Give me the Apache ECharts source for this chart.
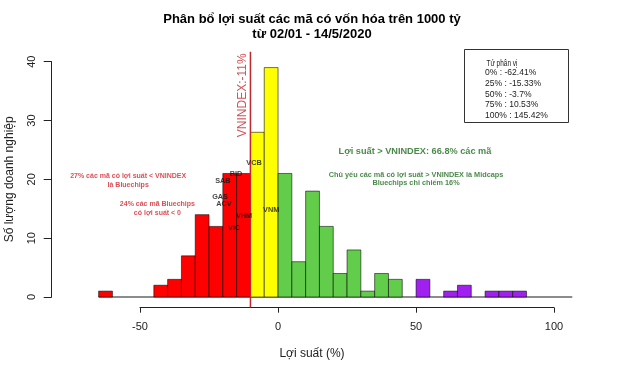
<!DOCTYPE html>
<html>
<head>
<meta charset="utf-8">
<script src="https://cdn.jsdelivr.net/npm/echarts@6/dist/echarts.min.js"></script>
<style>html,body{margin:0;padding:0;background:#fff}#c{width:624px;height:387px}</style>
</head>
<body>
<div id="c"></div>
<script>
// ---- data ----
var binStarts = [-65,-60,-55,-50,-45,-40,-35,-30,-25,-20,-15,-10,-5,0,5,10,15,20,25,30,35,40,45,50,55,60,65,70,75,80,85];
var counts    = [  1,  0,  0,  0,  2,  3,  7, 14, 12, 21, 21, 28,39,21,6,18,12, 4, 8, 1, 4, 3, 0, 3, 0, 1, 2, 0, 1, 1, 1];
var binWidth = 5;
var vnindexLine = -10;
var vnindexLabel = 'VNINDEX:-11%';
var xTicks = [-50, 0, 50, 100];
var yTicks = [0, 10, 20, 30, 40];
var quantileTitle = 'Tứ phân vị';
var quantileLabels = ['0% : -62.41%', '25% : -15.33%', '50% : -3.7%', '75% : 10.53%', '100% : 145.42%'];
var stockLabels = [
  ['BID', -15.2, 20.9], ['SAB', -20.0, 19.8], ['GAS', -21.0, 17.0], ['ACV', -19.6, 15.8],
  ['VHM', -12.3, 13.8], ['VIC', -15.9, 11.7], ['VCB', -8.7, 22.8], ['VNM', -2.5, 14.8]
];
var redNotes = [
  ['27% các mã có lợi suất < VNINDEX\nlà Bluechips', -54.3, 19.8],
  ['24% các mã Bluechips\ncó lợi suất < 0', -43.7, 15.0]
];
var greenTitle = ['Lợi suất > VNINDEX: 66.8% các mã', 49.6, 24.7];
var greenNote = ['Chủ yếu các mã có lợi suất > VNINDEX là Midcaps\nBluechips chỉ chiếm 16%', 50.0, 20.1];

function binColor(s) {
  if (s < -10) return '#FF0000';
  if (s < 0) return '#FFFF00';
  if (s < 50) return '#62CD4B';
  return '#A020F0';
}
var histData = binStarts.map(function (s, i) { return [s, s + binWidth, counts[i]]; });

var FONT = '"Liberation Sans", Arial, sans-serif';
var chart = echarts.init(document.getElementById('c'), null, {renderer: 'canvas'});

function textSeries(items, style, rotate) {
  return {
    type: 'scatter', xAxisIndex: 0, yAxisIndex: 0, symbolSize: 1, silent: true,
    itemStyle: {color: 'rgba(0,0,0,0)'}, z: 10,
    data: items.map(function (d) { return {name: d[0], value: [d[1], d[2]]}; }),
    label: Object.assign({show: true, position: 'inside', formatter: '{b}', fontFamily: FONT, align: 'center', verticalAlign: 'middle', rotate: rotate || 0}, style),
    labelLayout: {hideOverlap: false}
  };
}

var option = {
  animation: false,
  backgroundColor: '#fff',
  title: {
    text: 'Phân bổ lợi suất các mã có vốn hóa trên 1000 tỷ\ntừ 02/01 - 14/5/2020',
    left: 'center', top: 7,
    textStyle: {fontFamily: FONT, fontSize: 13, fontWeight: 'bold', color: '#000', lineHeight: 15, align: 'center'}
  },
  grid: [
    {left: 51.7, width: 520.6, top: 61.7, height: 235.3, outerBoundsMode: 'none', containLabel: false},
    {left: 140, width: 414, top: 306.7, height: 1, outerBoundsMode: 'none', containLabel: false}
  ],
  xAxis: [
    {type: 'value', gridIndex: 0, min: -82, max: 106.6,
     axisLine: {show: false}, axisTick: {show: false}, axisLabel: {show: false}, splitLine: {show: false},
     name: 'Lợi suất (%)', nameLocation: 'middle', nameGap: 51,
     nameTextStyle: {fontFamily: FONT, fontSize: 12, color: '#222'}},
    {type: 'value', gridIndex: 1, min: xTicks[0], max: xTicks[xTicks.length - 1], interval: 50,
     axisLine: {show: true, onZero: false, lineStyle: {color: '#222', width: 1}},
     axisTick: {show: true, length: 5, lineStyle: {color: '#222'}},
     axisLabel: {margin: 14, fontFamily: FONT, fontSize: 11, color: '#222'},
     splitLine: {show: false}}
  ],
  yAxis: [
    {type: 'value', gridIndex: 0, min: yTicks[0], max: yTicks[yTicks.length - 1], interval: 10,
     axisLine: {show: true, onZero: false, lineStyle: {color: '#222', width: 1}},
     axisTick: {show: true, length: 8, lineStyle: {color: '#222'}},
     axisLabel: {rotate: 90, margin: 14, fontFamily: FONT, fontSize: 11, color: '#222'},
     splitLine: {show: false},
     name: 'Số lượng doanh nghiệp', nameLocation: 'middle', nameGap: 36, nameRotate: 90,
     nameTextStyle: {fontFamily: FONT, fontSize: 12, color: '#222'}},
    {type: 'value', gridIndex: 1, show: false, min: 0, max: 1}
  ],
  series: [
    {type: 'line', xAxisIndex: 0, yAxisIndex: 0, data: [[binStarts[0], 0], [106.6, 0]],
     symbol: 'none', lineStyle: {color: '#8c8c8c', width: 2}, z: 1, silent: true},
    {type: 'custom', xAxisIndex: 0, yAxisIndex: 0, z: 2,
     data: histData,
     renderItem: function (params, api) {
       var x0 = api.value(0), x1 = api.value(1), c = api.value(2);
       if (!c) return null;
       var p0 = api.coord([x0, c]), p1 = api.coord([x1, 0]);
       return {type: 'rect', shape: {x: p0[0], y: p0[1], width: p1[0] - p0[0], height: p1[1] - p0[1]},
         style: {fill: binColor(x0), stroke: 'rgba(0,0,0,0.55)', lineWidth: 1}};
     }},
    {type: 'line', xAxisIndex: 0, yAxisIndex: 0, clip: false, z: 5, silent: true,
     data: [[vnindexLine, -1.8], [vnindexLine, 41.7]], symbol: 'none',
     lineStyle: {color: '#C0282E', width: 1.5}},
    textSeries([[vnindexLabel, -12.7, 34.3]], {fontSize: 12, color: '#C0282E'}, 90),
    textSeries(stockLabels, {fontSize: 7.3, fontWeight: 'bold', color: '#111'}),
    textSeries(redNotes, {fontSize: 7, fontWeight: 'bold', color: '#D2232A', lineHeight: 9}),
    textSeries([greenTitle], {fontSize: 9.2, fontWeight: 'bold', color: '#1E6B1E'}),
    textSeries([greenNote], {fontSize: 7.3, fontWeight: 'bold', color: '#1E6B1E', lineHeight: 7.5})
  ],
  graphic: [
    {type: 'rect', left: 464, top: 49, shape: {width: 104, height: 73}, style: {fill: '#fff', stroke: '#333', lineWidth: 1}},
    {type: 'text', x: 486.5, y: 58.8, scaleX: 0.72, style: {text: quantileTitle, font: '9px ' + FONT, fill: '#222'}}
  ].concat(quantileLabels.map(function (t, i) {
    return {type: 'text', x: 485, y: 67.5 + i * 10.75, scaleX: 0.9, style: {text: t, font: '9.5px ' + FONT, fill: '#222'}};
  }))
};
chart.setOption(option);
</script>
</body>
</html>
